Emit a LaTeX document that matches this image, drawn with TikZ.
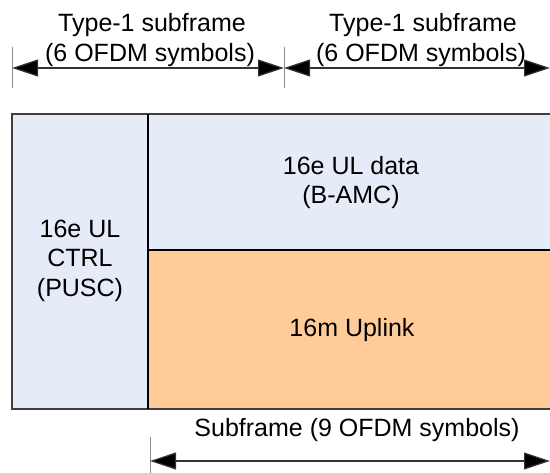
\documentclass[tikz,border=0pt]{standalone}
\usepackage{fontspec}
\setmainfont{Liberation Sans}
\usetikzlibrary{arrows.meta}
\definecolor{lblue}{RGB}{230,236,247}
\definecolor{lorange}{RGB}{255,204,153}
\definecolor{bordergray}{RGB}{64,64,64}
\tikzset{
  lbl/.style={anchor=base, inner sep=0pt, font=\fontsize{25}{30}\selectfont},
  border/.style={draw=bordergray, line width=1.3pt},
  tick/.style={draw=gray!90, line width=1pt},
  dimarrow/.style={draw=black!80, line width=1.2pt, arrows={Triangle[length=26pt,width=17pt,fill=black]-Triangle[length=26pt,width=17pt,fill=black]}}
}
\begin{document}
\begin{tikzpicture}[x=1pt,y=-1pt]
\useasboundingbox (0,0) rectangle (550,473);
% fills
\fill[lblue] (12,114) rectangle (148,409);
\fill[lblue] (148,114) rectangle (552,250);
\fill[lorange] (148,250) rectangle (552,409);
% borders
\draw[border] (552,114) -- (12,114) -- (12,409) -- (552,409);
\draw[border, draw=black] (148,114) -- (148,409);
\draw[border, draw=black] (148,250) -- (552,250);
% texts in boxes
\node[lbl] (d1) at (351,175) {16e UL data};
\node[lbl] (d2) at (351,204) {(B-AMC)};
\node[lbl] (u1) at (352,337) {16m Uplink};
\node[lbl] (c1) at (80,238) {16e UL};
\node[lbl] (c2) at (80,267) {CTRL};
\node[lbl] (c3) at (80,297) {(PUSC)};
% top dimension
\coordinate (t1a) at (12,47); \coordinate (t1b) at (12,88);
\coordinate (t2a) at (284,47); \coordinate (t2b) at (284,88);
\draw[tick] (t1a) -- (t1b);
\draw[tick] (t2a) -- (t2b);
\coordinate (a1) at (12,68); \coordinate (a2) at (284,68); \coordinate (a3) at (550,68);
\draw[dimarrow] (a1) -- (a2);
\draw[dimarrow] (a2) -- (a3);
\node[lbl] (s1a) at (152,32) {Type-1 subframe};
\node[lbl] (s1b) at (150,62) {(6 OFDM symbols)};
\node[lbl] (s2a) at (423,32) {Type-1 subframe};
\node[lbl] (s2b) at (421,62) {(6 OFDM symbols)};
% bottom dimension
\coordinate (b1a) at (150,437); \coordinate (b1b) at (150,473);
\draw[tick] (b1a) -- (b1b);
\coordinate (b1) at (150,461); \coordinate (b2) at (550,461);
\draw[dimarrow] (b1) -- (b2);
\node[lbl] (sb) at (357,437) {Subframe (9 OFDM symbols)};
\end{tikzpicture}
\end{document}
